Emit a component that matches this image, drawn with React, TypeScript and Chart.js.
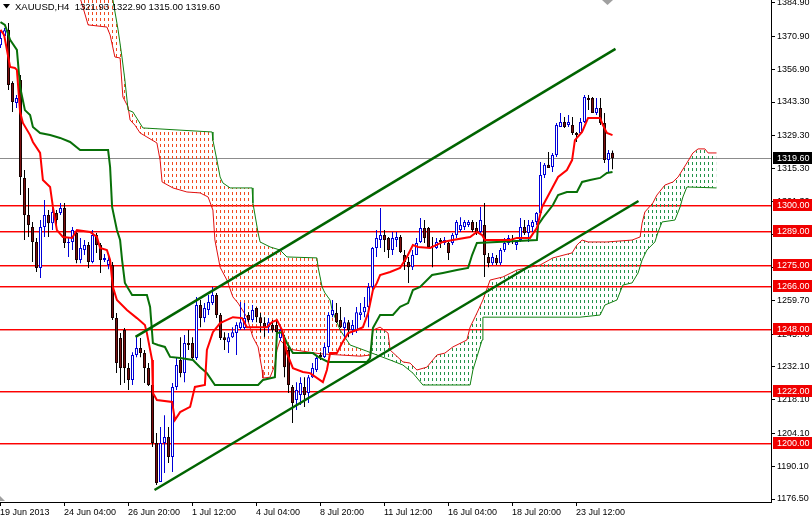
import React, { useEffect, useRef } from 'react';
import { Chart, registerables } from 'chart.js';
Chart.register(...registerables);

// ---- OHLC (H4 bars, index 0 = 19 Jun 2013) ----
const opens = [
  1367.2,1371.0,1373.6,1351.3,1342.9,1352.5,1311.4,1295.8,1290.8,1284.5,
  1273.6,1290.8,1295.8,1292.4,1296.7,1296.7,1298.8,1284.1,1284.5,1288.3,
  1276.9,1281.1,1283.2,1276.1,1287.4,1283.2,1276.9,1274.8,1274.8,1252.5,
  1244.1,1247.5,1231.5,1226.5,1237.0,1239.9,1237.8,1231.5,1224.4,1200.0,
  1183.6,1200.0,1202.5,1194.1,1223.6,1234.9,1229.4,1242.0,1242.0,1235.7,
  1258.0,1252.5,1255.9,1258.8,1262.2,1253.8,1244.5,1242.4,1244.5,1246.2,
  1248.3,1248.3,1253.8,1251.7,1256.7,1252.9,1250.4,1248.7,1249.6,1249.6,
  1244.1,1244.1,1239.1,1223.6,1218.1,1220.2,1223.6,1221.0,1227.7,1230.7,
  1237.0,1236.2,1240.4,1253.8,1254.6,1251.7,1248.3,1250.8,1247.5,1247.5,
  1253.8,1255.0,1257.2,1265.6,1282.0,1285.3,1287.4,1286.2,1281.1,1285.3,
  1286.6,1279.0,1276.1,1273.9,1279.0,1284.5,1290.4,1290.4,1282.8,1282.0,
  1285.3,1284.1,1284.1,1284.1,1287.4,1289.5,1290.8,1291.6,1292.9,1290.4,
  1288.7,1291.6,1278.2,1275.6,1277.8,1275.6,1281.1,1284.1,1285.7,1283.2,
  1285.3,1290.8,1288.3,1290.8,1292.9,1296.7,1312.6,1316.9,1316.0,1321.0,
  1332.8,1334.9,1333.6,1333.6,1330.3,1330.3,1334.9,1345.0,1345.0,1338.7,
  1340.8,1334.5,1318.9,1321.93,
];
const highs = [
  1373.6,1374.4,1376.5,1352.0,1346.2,1354.6,1314.7,1307.2,1292.9,1286.2,
  1293.7,1302.1,1297.9,1300.0,1297.9,1300.9,1300.9,1286.6,1290.8,1289.5,
  1286.2,1285.3,1284.5,1289.5,1288.3,1284.1,1279.4,1278.2,1276.1,1254.6,
  1246.2,1248.3,1233.6,1238.2,1245.0,1244.1,1239.1,1233.6,1229.4,1204.2,
  1206.7,1211.7,1206.7,1225.2,1236.1,1244.5,1245.4,1247.5,1244.5,1261.4,
  1260.1,1258.8,1262.2,1265.6,1263.1,1254.6,1246.6,1246.2,1248.7,1250.8,
  1259.3,1258.8,1255.0,1258.0,1257.2,1254.6,1252.9,1252.5,1251.7,1251.7,
  1249.6,1245.4,1241.2,1224.4,1225.6,1227.7,1227.7,1228.6,1233.6,1237.0,
  1238.2,1242.0,1255.0,1260.1,1258.8,1257.2,1252.9,1251.7,1251.7,1257.2,
  1258.8,1261.4,1267.3,1282.4,1289.5,1298.8,1289.5,1286.6,1288.7,1288.7,
  1287.4,1281.1,1278.2,1281.1,1286.2,1294.6,1293.7,1290.8,1286.6,1286.2,
  1286.2,1286.6,1284.5,1288.3,1293.7,1294.9,1293.7,1293.7,1293.7,1292.9,
  1299.2,1300.9,1279.9,1279.9,1279.0,1282.0,1286.2,1287.4,1287.4,1285.3,
  1294.6,1293.7,1293.7,1293.7,1297.1,1318.1,1317.7,1322.3,1321.9,1334.5,
  1338.7,1337.0,1337.8,1337.0,1330.7,1336.6,1346.2,1346.2,1345.4,1345.0,
  1345.0,1338.7,1323.1,1322.9,
];
const lows = [
  1366.0,1369.4,1348.3,1339.1,1340.8,1304.2,1285.3,1286.6,1276.1,1271.9,
  1269.4,1286.6,1286.6,1289.5,1291.6,1295.8,1282.0,1278.2,1281.1,1275.6,
  1275.6,1279.0,1273.6,1275.6,1279.9,1271.5,1276.1,1273.0,1251.7,1229.4,
  1224.4,1225.2,1222.3,1224.4,1236.1,1236.1,1225.2,1224.0,1198.3,1182.4,
  1183.6,1187.4,1191.6,1187.8,1222.3,1227.7,1225.6,1239.1,1234.9,1234.9,
  1248.7,1250.8,1253.8,1258.0,1252.5,1243.3,1239.1,1237.8,1244.1,1237.0,
  1247.5,1247.5,1250.8,1250.8,1250.8,1246.6,1244.5,1246.2,1246.6,1244.5,
  1242.9,1227.7,1221.0,1208.4,1213.9,1216.0,1215.2,1216.8,1227.3,1229.9,
  1234.9,1235.7,1237.8,1252.9,1250.4,1248.3,1244.5,1244.5,1245.4,1246.2,
  1251.7,1252.9,1248.7,1264.3,1278.2,1282.0,1280.3,1277.8,1279.0,1282.4,
  1279.9,1272.7,1267.3,1272.7,1279.0,1284.1,1284.1,1282.0,1273.9,1281.5,
  1282.0,1283.2,1276.9,1283.2,1286.2,1288.7,1289.5,1290.8,1288.7,1287.4,
  1287.4,1269.8,1273.9,1274.8,1274.8,1274.8,1280.3,1283.2,1283.6,1281.1,
  1284.5,1287.4,1284.5,1288.7,1291.6,1295.8,1311.4,1315.6,1313.9,1320.2,
  1332.8,1332.4,1332.8,1329.4,1326.5,1330.3,1334.5,1339.9,1338.7,1337.8,
  1333.6,1317.7,1313.9,1315.0,
];
const closes = [
  1370.2,1373.5,1350.4,1343.3,1345.0,1311.8,1295.8,1291.6,1284.5,1273.6,
  1290.8,1295.8,1292.4,1297.1,1293.7,1298.8,1284.1,1284.5,1289.5,1276.9,
  1282.0,1283.2,1276.1,1287.4,1283.2,1276.9,1277.8,1276.9,1252.5,1233.6,
  1231.5,1231.5,1226.5,1237.0,1239.9,1237.8,1231.5,1224.4,1200.0,1183.2,
  1200.0,1202.5,1194.1,1223.6,1232.8,1229.4,1242.0,1241.2,1235.7,1258.0,
  1252.5,1256.7,1259.3,1262.2,1253.8,1244.1,1243.3,1244.5,1246.6,1249.6,
  1250.8,1252.5,1251.7,1255.9,1252.9,1250.4,1248.3,1250.8,1247.5,1246.6,
  1247.5,1231.9,1224.4,1216.8,1222.3,1225.2,1220.2,1227.7,1231.5,1235.7,
  1236.2,1240.4,1253.8,1255.9,1250.8,1248.7,1250.8,1247.5,1249.6,1255.0,
  1255.0,1257.2,1265.6,1282.0,1286.2,1287.4,1285.3,1281.1,1286.2,1286.6,
  1280.3,1276.1,1273.9,1279.0,1284.1,1290.4,1286.2,1282.4,1282.4,1284.5,
  1284.5,1285.3,1279.9,1287.4,1292.9,1291.6,1292.9,1292.9,1289.5,1288.3,
  1293.7,1279.0,1275.6,1278.2,1275.6,1281.1,1284.1,1286.2,1285.3,1284.5,
  1290.8,1288.3,1291.6,1292.9,1296.7,1312.6,1316.9,1315.6,1321.0,1333.6,
  1334.9,1332.8,1334.9,1330.3,1329.4,1334.9,1345.4,1344.1,1338.7,1340.8,
  1334.5,1318.9,1321.9,1319.6,
];

// ---- Ichimoku lines: [bar index, price] ----
const tenkanLine = [
  [0,1373.6],[0.9,1371.5],[2.4,1358.0],[3.6,1357.6],[4.1,1356.8],[4.9,1339.1],[5.6,1334.5],[7.4,1329.4],
  [8.1,1326.5],[9.9,1321.9],[10.6,1310.5],[12.4,1307.6],[13.1,1299.2],[14.1,1289.5],[15.6,1286.6],[17.9,1286.2],
  [19.1,1289.5],[22.4,1288.7],[24.1,1286.6],[24.9,1282.0],[26.6,1281.1],[27.4,1276.9],[28.1,1265.6],[29.1,1260.1],
  [31.6,1255.9],[34.1,1252.5],[36.1,1249.6],[36.6,1246.2],[37.9,1234.9],[38.1,1221.0],[39.1,1218.1],[42.9,1217.3],
  [43.6,1209.7],[44.9,1213.0],[47.4,1215.2],[48.6,1223.6],[51.1,1224.4],[51.6,1239.1],[53.1,1246.6],[54.9,1250.4],
  [58.1,1252.9],[60.4,1252.5],[61.6,1248.7],[66.6,1248.7],[67.9,1250.8],[69.1,1251.7],[70.4,1247.5],[71.6,1237.8],
  [73.1,1231.5],[75.6,1229.9],[77.4,1229.4],[80.6,1225.6],[81.6,1230.7],[82.4,1237.8],[84.1,1237.8],[85.4,1242.0],
  [86.9,1246.2],[89.1,1247.5],[90.6,1248.7],[91.9,1254.6],[93.1,1264.3],[94.1,1267.3],[94.9,1270.6],[97.4,1271.9],
  [99.9,1273.6],[101.6,1278.2],[103.1,1283.2],[104.4,1282.4],[107.4,1282.0],[110.6,1284.5],[113.1,1285.3],[117.4,1286.6],
  [119.1,1288.7],[120.4,1287.4],[121.1,1285.3],[127.4,1285.3],[129.1,1286.2],[132.4,1286.2],[134.1,1290.4],[135.4,1299.2],
  [137.4,1305.5],[139.4,1311.8],[141.6,1314.7],[142.9,1318.9],[143.6,1327.3],[145.4,1330.7],[146.9,1336.6],[149.9,1336.6],
  [150.6,1333.6],[151.6,1330.3],[153,1329.4],
];
const kijunLine = [
  [0,1376.9],[1.1,1375.7],[2.4,1369.4],[4.1,1365.2],[4.9,1349.6],[6.1,1339.9],[7.4,1337.8],[8.1,1332.8],
  [9.9,1330.3],[12.4,1329.4],[14.9,1328.2],[17.4,1326.5],[19.9,1323.1],[26.9,1323.1],[27.4,1316.0],[27.9,1299.2],
  [29.1,1289.5],[29.9,1285.3],[30.4,1276.9],[31.1,1267.3],[32.9,1262.2],[36.6,1262.2],[37.4,1257.2],[38.1,1242.0],
  [39.4,1241.2],[41.1,1240.4],[42.4,1236.2],[44.9,1235.7],[48.1,1234.9],[49.9,1231.9],[51.6,1229.4],[53.6,1224.4],
  [64.4,1224.4],[65.6,1226.5],[68.6,1227.7],[69.1,1246.2],[70.4,1246.6],[71.6,1242.0],[73.1,1237.8],[78.1,1237.8],
  [79.4,1236.2],[81.9,1234.1],[91.6,1234.1],[92.4,1235.7],[93.1,1248.3],[94.9,1253.8],[98.1,1253.8],[99.9,1257.2],
  [101.9,1258.8],[103.1,1264.3],[104.9,1265.6],[107.9,1270.6],[110.6,1271.5],[114.1,1272.7],[116.9,1273.6],[117.9,1279.0],
  [119.1,1284.1],[134.1,1285.3],[134.4,1291.6],[135.6,1294.6],[138.1,1300.0],[139.4,1304.2],[141.6,1305.5],[144.1,1305.5],
  [145.4,1309.7],[147.4,1310.5],[149.9,1311.4],[151.6,1313.5],[153,1313.9],
];
const spanALine = [
  [19,1392],[20.6,1383.2],[21.9,1375.7],[26.6,1374.8],[27.4,1371.5],[28.6,1362.2],[29.9,1361.8],[30.6,1345.4],
  [31.9,1341.2],[32.4,1335.7],[33.6,1333.6],[34.9,1330.3],[36.6,1328.6],[39.1,1326.1],[39.9,1318.9],[40.4,1309.7],
  [43.1,1307.2],[46.6,1305.5],[49.9,1305.1],[51.9,1303.4],[53.1,1297.9],[53.6,1285.3],[54.9,1273.9],[56.6,1268.5],
  [58.1,1261.4],[59.4,1258.8],[61.6,1252.9],[63.1,1244.5],[64.4,1240.4],[65.4,1230.7],[65.6,1227.3],[67.4,1227.7],
  [68.6,1232.8],[69.1,1239.1],[69.9,1243.3],[72,1239.5],[80,1237.5],[90,1236.5],[92.5,1237.0],[93.1,1247.5],
  [94.9,1248.7],[96.9,1246.2],[97.4,1239.1],[100.6,1234.1],[102.4,1233.6],[104.1,1230.7],[106.6,1231.9],[109.1,1237.0],
  [111.1,1237.8],[113.1,1240.4],[116.6,1243.3],[117.4,1248.7],[119.1,1254.6],[120.6,1260.1],[122.4,1268.5],[125.6,1269.8],
  [129.1,1272.7],[134.9,1274.8],[138.1,1277.8],[142.9,1279.9],[144.1,1283.2],[145.4,1285.3],[146.9,1284.5],[151.6,1284.5],
  [157.9,1285.3],[159.9,1286.6],[160.4,1292.4],[161.1,1297.1],[163.1,1300.9],[164.1,1304.2],[166.1,1308.4],[168.1,1309.7],
  [169.4,1311.8],[171.6,1317.7],[173.1,1321.9],[174.4,1323.6],[176.1,1323.6],[176.9,1321.9],[179,1321.9],
];
const spanBLine = [
  [19,1400],[28.1,1386.2],[29.4,1373.6],[30.4,1361.8],[31.1,1352.5],[31.9,1339.9],[33.1,1339.1],[35.6,1332.4],
  [52.9,1330.7],[53.1,1327.3],[54.1,1318.9],[54.9,1311.8],[55.6,1309.3],[57.4,1307.2],[62.9,1307.2],[63.1,1300.9],
  [64.4,1288.3],[64.9,1284.5],[67.4,1282.4],[69.9,1281.1],[71.6,1278.2],[79.1,1277.8],[79.4,1273.9],[80.4,1265.6],
  [81.1,1263.1],[82.4,1260.1],[82.9,1255.9],[84.9,1247.5],[87.4,1241.2],[91.6,1238.6],[97.4,1234.9],[100.6,1232.8],
  [103.1,1229.4],[105.6,1224.4],[117.4,1224.4],[118.1,1230.7],[119.4,1237.8],[120.4,1243.3],[120.6,1252.9],[144.9,1252.9],
  [149.9,1253.8],[151.1,1258.0],[154.1,1260.1],[155.6,1266.4],[157.9,1267.3],[159.4,1271.5],[160.4,1276.9],[161.6,1281.1],
  [163.6,1284.5],[164.4,1288.7],[165.4,1292.9],[168.6,1293.7],[169.9,1299.2],[170.6,1303.4],[171.6,1307.6],[179,1307.2],
];

// ---- Trend lines, levels, ticks ----
const upperTrend = [[33.75,1244.6],[153.75,1365.6]];
const lowerTrend = [[38.5,1180.3],[159.5,1301.7]];
const levels = [1300, 1289, 1275, 1266, 1248, 1222, 1200];
const lastPrice = 1319.6;
const yTicks = [1384.9,1370.9,1356.9,1343.3,1329.3,1315.3,1301.3,1287.7,1273.7,1259.7,1245.7,1232.1,1218.1,1204.1,1190.1,1176.5];
const xTickBars = [0,16,32,48,64,80,96,112,128,144];
const xTickLabels = ['19 Jun 2013','24 Jun 04:00','26 Jun 20:00','1 Jul 12:00','4 Jul 04:00','8 Jul 20:00','11 Jul 12:00','16 Jul 04:00','18 Jul 20:00','23 Jul 12:00'];
const headerText = 'XAUUSD,H4  1321.93 1322.90 1315.00 1319.60';

const FONT = '"Liberation Sans", Arial, sans-serif';
const BLUE = '#0000D8';

export default function App() {
  const ref = useRef<HTMLCanvasElement>(null);
  useEffect(() => {
    document.body.style.margin = '0';
    const canvas = ref.current!;
    const mctx = canvas.getContext('2d')!;
    const mkPattern = (color: string) => {
      const c = document.createElement('canvas');
      c.width = 4; c.height = 6;
      const g = c.getContext('2d')!;
      g.fillStyle = color;
      g.fillRect(0, 0, 1, 3);
      return mctx.createPattern(c, 'repeat')!;
    };
    const redHatch = mkPattern('#F04A20');
    const greenHatch = mkPattern('#23934A');

    const idx = opens.map((_, i) => i);
    const up = (i: number) => closes[i] >= opens[i];
    const pts = (a: number[][]) => a.map(([x, y]) => ({ x, y }));

    const overlay = {
      id: 'overlay',
      beforeDatasetsDraw(chart: any) {
        const { ctx, chartArea, scales } = chart;
        ctx.save();
        const w = chartArea.right - chartArea.left;
        levels.forEach((v) => {
          const py = Math.round(scales.y.getPixelForValue(v));
          ctx.fillStyle = '#FF0000';
          ctx.fillRect(chartArea.left, py, w, 1);
          ctx.fillStyle = 'rgba(240,0,0,0.45)';
          ctx.fillRect(chartArea.left, py + 1, w, 1);
        });
        ctx.fillStyle = '#8C8C8C';
        const lp = Math.round(scales.y.getPixelForValue(lastPrice));
        ctx.fillRect(chartArea.left, lp, w, 1);
        ctx.restore();
      },
      afterDraw(chart: any) {
        const { ctx, chartArea, scales } = chart;
        ctx.save();
        ctx.font = '9px ' + FONT;
        ctx.textBaseline = 'middle';
        ctx.textAlign = 'left';
        const box = (v: number, bg: string) => {
          const py = Math.round(scales.y.getPixelForValue(v));
          ctx.fillStyle = bg;
          ctx.fillRect(chartArea.right + 2, py - 6, 40, 12);
          ctx.fillStyle = '#FFFFFF';
          ctx.fillText(v.toFixed(2), chartArea.right + 6, py + 0.5);
        };
        levels.forEach((v) => box(v, '#F00000'));
        box(lastPrice, '#000000');
        // header
        ctx.fillStyle = '#000';
        ctx.beginPath(); ctx.moveTo(3, 4); ctx.lineTo(10, 4); ctx.lineTo(6.5, 8.5); ctx.closePath(); ctx.fill();
        ctx.font = '9.5px ' + FONT;
        ctx.fillText(headerText, 15, 7);
        // chart shift marker
        ctx.fillStyle = '#A0A0A0';
        ctx.beginPath(); ctx.moveTo(602, 0); ctx.lineTo(613, 0); ctx.lineTo(607.5, 5); ctx.closePath(); ctx.fill();
        ctx.beginPath(); ctx.moveTo(0, 496); ctx.lineTo(5, 501); ctx.lineTo(0, 501); ctx.closePath(); ctx.fill();
        ctx.restore();
      },
    };

    const chart = new Chart(canvas, {
      type: 'bar',
      data: {
        datasets: [
          { type: 'line', data: pts(spanALine), borderColor: '#E01010', borderWidth: 1, pointRadius: 0, tension: 0,
            fill: { target: '+1', above: greenHatch, below: redHatch }, order: 10 } as any,
          { type: 'line', data: pts(spanBLine), borderColor: '#108010', borderWidth: 1, pointRadius: 0, tension: 0, fill: false, order: 9 } as any,
          { type: 'bar', data: idx.map((i) => ({ x: i, y: [lows[i], highs[i]] })), backgroundColor: idx.map((i) => (up(i) ? BLUE : '#000000')),
            barThickness: 1, grouped: false, borderWidth: 0, minBarLength: 1, inflateAmount: 0, order: 8 } as any,
          { type: 'bar', data: idx.map((i) => ({ x: i, y: [Math.min(opens[i], closes[i]), Math.max(opens[i], closes[i])] })),
            backgroundColor: idx.map((i) => (up(i) ? '#FFFFFF' : '#7A1010')), borderColor: idx.map((i) => (up(i) ? BLUE : '#1A0000')),
            borderWidth: 1, borderSkipped: false, barThickness: 3, grouped: false, minBarLength: 1, inflateAmount: 0, order: 7 } as any,
          { type: 'line', data: pts(kijunLine), borderColor: '#087008', borderWidth: 2, pointRadius: 0, tension: 0, fill: false, order: 5 } as any,
          { type: 'line', data: pts(tenkanLine), borderColor: '#FF0000', borderWidth: 2, pointRadius: 0, tension: 0, fill: false, order: 4 } as any,
          { type: 'line', data: pts(upperTrend), borderColor: '#006400', borderWidth: 2.5, pointRadius: 0, tension: 0, fill: false, order: 2 } as any,
          { type: 'line', data: pts(lowerTrend), borderColor: '#006400', borderWidth: 2.5, pointRadius: 0, tension: 0, fill: false, order: 2 } as any,
        ],
      },
      options: {
        animation: false,
        responsive: false,
        events: [],
        layout: { padding: 0 },
        plugins: { legend: { display: false }, tooltip: { enabled: false } },
        scales: {
          x: {
            type: 'linear', min: -0.125, max: 192.625, offset: false,
            grid: { offset: false, drawOnChartArea: false, tickLength: 4, color: '#000' },
            border: { display: true, color: '#000' },
            afterBuildTicks: (s: any) => { s.ticks = xTickBars.map((b) => ({ value: b - 0.125 })); },
            afterFit: (s: any) => { s.height = 16; s.paddingLeft = 0; s.paddingRight = 0; },
            ticks: { autoSkip: false, maxRotation: 0, align: 'start', padding: 1, color: '#000', font: { family: FONT, size: 9 },
              callback: (_v: any, i: number) => xTickLabels[i] },
          },
          y: {
            type: 'linear', position: 'right', min: 1175.24, max: 1386.16,
            grid: { drawOnChartArea: false, tickLength: 4, color: '#000' },
            border: { display: true, color: '#000' },
            afterBuildTicks: (s: any) => { s.ticks = yTicks.map((v) => ({ value: v })); },
            afterFit: (s: any) => { s.width = 41; s.paddingTop = 0; s.paddingBottom = 0; },
            ticks: { autoSkip: false, padding: 2, color: '#000', font: { family: FONT, size: 9 },
              callback: (v: any) => Number(v).toFixed(2) },
          },
        },
      } as any,
      plugins: [overlay],
    });
    return () => chart.destroy();
  }, []);
  return (
    <div style={{ width: 812, height: 518, background: '#fff' }}>
      <canvas ref={ref} width={812} height={518} style={{ display: 'block', width: 812, height: 518 }} />
    </div>
  );
}
